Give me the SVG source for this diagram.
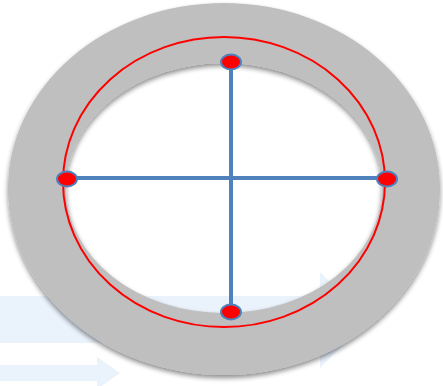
<svg xmlns="http://www.w3.org/2000/svg" width="443" height="386" viewBox="0 0 443 386">
<style>
.arrow{fill:#eaf2fc}
.axis{stroke:#4f81bd;stroke-width:4;fill:none}
.dot{fill:#ff0000;stroke:#4f81bd;stroke-width:2}
</style>
<defs>
<filter id="sh" x="-10%" y="-10%" width="120%" height="125%">
<feGaussianBlur in="SourceAlpha" stdDeviation="2.5"/>
<feOffset dx="0" dy="3" result="b"/>
<feComponentTransfer><feFuncA type="linear" slope="0.45"/></feComponentTransfer>
<feMerge><feMergeNode/><feMergeNode in="SourceGraphic"/></feMerge>
</filter>
</defs>
<g id="background-arrows">
<path class="arrow" d="M0,296 H320 V272 L368,320 L320,368 V343 H0 Z"/>
<path class="arrow" d="M0,365 H97 V357 L120,373 L97,389 V381 H0 Z"/>
</g>
<g id="ring">
<path filter="url(#sh)" fill="#bfbfbf" fill-rule="evenodd" d="M8,189 A216,186 0 1 0 440,189 A216,186 0 1 0 8,189 Z M66,188 A158,125 0 1 1 382,188 A158,125 0 1 1 66,188 Z"/>
</g>
<g id="circle">
<ellipse cx="224" cy="182" rx="161" ry="145" fill="none" stroke="#ff0000" stroke-width="2"/>
</g>
<g id="connectors">
<line class="axis" x1="67" y1="178" x2="387" y2="178"/>
<line class="axis" x1="231" y1="62" x2="231" y2="312"/>
</g>
<g id="dot-top"><ellipse class="dot" cx="231" cy="62" rx="10" ry="7.5"/></g>
<g id="dot-bottom"><ellipse class="dot" cx="231" cy="312" rx="10" ry="7.5"/></g>
<g id="dot-left"><ellipse class="dot" cx="67" cy="179" rx="10" ry="7.5"/></g>
<g id="dot-right"><ellipse class="dot" cx="387" cy="179" rx="10" ry="7.5"/></g>
</svg>
